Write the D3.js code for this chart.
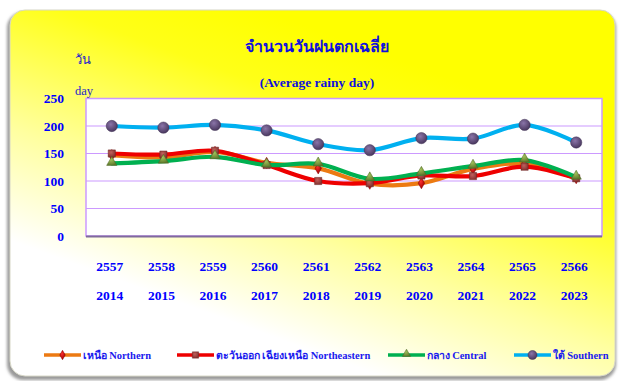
<!DOCTYPE html>
<html>
<head>
<meta charset="utf-8">
<script src="https://cdn.jsdelivr.net/npm/d3@7"></script>
<style>
  html, body { margin: 0; padding: 0; background: #ffffff; }
  svg { display: block; }
</style>
</head>
<body>
<svg id="chart" width="619" height="381"></svg>
<script>
// Average number of rainy days by region
const yearsBE = ["2557", "2558", "2559", "2560", "2561", "2562", "2563", "2564", "2565", "2566"];
const yearsCE = ["2014", "2015", "2016", "2017", "2018", "2019", "2020", "2021", "2022", "2023"];
const northern     = [147, 143, 153, 133, 123, 95, 96, 122, 131, 105];
const northeastern = [150, 148, 155, 129, 100, 96, 110, 109, 126, 105];
const central      = [132, 136, 144, 129, 131, 104, 114, 127, 138, 107];
const southern     = [200, 197, 202, 192, 167, 156, 178, 177, 202, 170];
const yTicks = [0, 50, 100, 150, 200, 250];

const seriesNames = ["เหนือ Northern", "ตะวันออก เฉียงเหนือ Northeastern", "กลาง Central", "ใต้ Southern"];

const series = [
  { name: seriesNames[0], values: northern,     line: "#ec7a12", marker: "diamond",  mstroke: "#8b0000" },
  { name: seriesNames[1], values: northeastern, line: "#ee0000", marker: "square",   mstroke: "#6e2624" },
  { name: seriesNames[2], values: central,      line: "#00b050", marker: "triangle", mstroke: "#4f6625" },
  { name: seriesNames[3], values: southern,     line: "#00b0f0", marker: "circle",   mstroke: "#3f3052" }
];

const svg = d3.select("#chart");
const defs = svg.append("defs");

// panel background: yellow at the top fading to white towards the bottom
const bg = defs.append("linearGradient").attr("id", "bgGrad")
  .attr("gradientUnits", "userSpaceOnUse")
  .attr("x1", 400).attr("y1", 60).attr("x2", 290).attr("y2", 360);
bg.append("stop").attr("offset", 0).attr("stop-color", "#ffff00");
bg.append("stop").attr("offset", 0.22).attr("stop-color", "#ffff18");
bg.append("stop").attr("offset", 0.62).attr("stop-color", "#ffffa0");
bg.append("stop").attr("offset", 0.95).attr("stop-color", "#ffffff");

const shadow = defs.append("filter").attr("id", "panelShadow")
  .attr("x", "-5%").attr("y", "-5%").attr("width", "110%").attr("height", "110%");
shadow.append("feGaussianBlur").attr("stdDeviation", 1.5);

// marker shading gradients
function radial(id, light, dark) {
  const g = defs.append("radialGradient").attr("id", id)
    .attr("cx", "40%").attr("cy", "35%").attr("r", "65%");
  g.append("stop").attr("offset", 0).attr("stop-color", light);
  g.append("stop").attr("offset", 1).attr("stop-color", dark);
}
radial("gCircle", "#8a74a8", "#4a385f");
radial("gSquare", "#c0605c", "#853230");
radial("gTriangle", "#a2c25a", "#5f7a2c");
radial("gDiamond", "#ff3030", "#a00000");

// panel
svg.append("rect")
  .attr("x", 7).attr("y", 12).attr("width", 609).attr("height", 368)
  .attr("rx", 16).attr("fill", "#9a9a9a").attr("filter", "url(#panelShadow)");
svg.append("rect")
  .attr("x", 10).attr("y", 10).attr("width", 605).attr("height", 366)
  .attr("rx", 15).attr("fill", "url(#bgGrad)")
  .attr("stroke", "#d8d8c8").attr("stroke-width", 1);

// plot area
const plot = { left: 86, top: 98.5, right: 602, bottom: 236 };

const x = d3.scaleBand().domain(yearsBE).range([plot.left, plot.right]);
const y = d3.scaleLinear().domain([0, 250]).range([plot.bottom, plot.top]);

svg.append("rect")
  .attr("x", plot.left).attr("y", plot.top)
  .attr("width", plot.right - plot.left).attr("height", plot.bottom - plot.top)
  .attr("fill", "#ffffff").attr("stroke", "#cc99ff").attr("stroke-width", 1.5);

// horizontal gridlines
svg.append("g").selectAll("line").data(yTicks.filter(t => t > 0 && t < 250)).join("line")
  .attr("x1", plot.left).attr("x2", plot.right)
  .attr("y1", d => y(d)).attr("y2", d => y(d))
  .attr("stroke", "#cc99ff").attr("stroke-width", 1.2);

const fontSerif = "'Liberation Serif', 'Times New Roman', serif";

// y axis labels
const yAxis = d3.axisLeft(y).tickValues(yTicks).tickSize(0).tickPadding(0);
const yg = svg.append("g").attr("transform", `translate(${plot.left - 22},0)`).call(yAxis);
yg.select(".domain").remove();
yg.selectAll("text")
  .attr("fill", "#0000ff").attr("font-family", fontSerif)
  .attr("font-weight", "bold").attr("font-size", 13.5);

// x axis line
svg.append("line")
  .attr("x1", plot.left).attr("x2", plot.right)
  .attr("y1", plot.bottom + 0.5).attr("y2", plot.bottom + 0.5)
  .attr("stroke", "#7f6a9c").attr("stroke-width", 2.2);

// x category labels (Buddhist era and Common era rows)
const xLabels = svg.append("g")
  .attr("fill", "#0000ff").attr("font-family", fontSerif)
  .attr("font-weight", "bold").attr("font-size", 13.5).attr("text-anchor", "middle");
xLabels.selectAll("text.be").data(yearsBE).join("text").attr("class", "be")
  .attr("x", d => x(d) + x.bandwidth() / 2 - 2).attr("y", 271).text(d => d);
xLabels.selectAll("text.ce").data(yearsCE).join("text").attr("class", "ce")
  .attr("x", (d, i) => x(yearsBE[i]) + x.bandwidth() / 2 - 2).attr("y", 300).text(d => d);

// series lines
const line = d3.line()
  .x((d, i) => x(yearsBE[i]) + x.bandwidth() / 2)
  .y(d => y(d))
  .curve(d3.curveCatmullRom.alpha(0.5));

const markerSym = {
  diamond: d3.symbol().type(d3.symbolDiamond).size(36),
  square: d3.symbol().type(d3.symbolSquare).size(52),
  triangle: d3.symbol().type(d3.symbolTriangle).size(46),
  circle: d3.symbol().type(d3.symbolCircle).size(100)
};
const legendSym = {
  diamond: d3.symbol().type(d3.symbolDiamond).size(26),
  square: d3.symbol().type(d3.symbolSquare).size(40),
  triangle: d3.symbol().type(d3.symbolTriangle).size(30),
  circle: d3.symbol().type(d3.symbolCircle).size(64)
};
const markerGrad = { diamond: "url(#gDiamond)", square: "url(#gSquare)", triangle: "url(#gTriangle)", circle: "url(#gCircle)" };

const sg = svg.append("g");
series.forEach(s => {
  sg.append("path").datum(s.values)
    .attr("d", line).attr("fill", "none")
    .attr("stroke", s.line).attr("stroke-width", 4.2)
    .attr("stroke-linejoin", "round").attr("stroke-linecap", "round");
  sg.append("g").selectAll("path").data(s.values).join("path")
    .attr("transform", (d, i) => `translate(${x(yearsBE[i]) + x.bandwidth() / 2},${y(d) + (s.marker === "triangle" ? -1 : 0)})`)
    .attr("d", markerSym[s.marker])
    .attr("fill", markerGrad[s.marker])
    .attr("stroke", s.mstroke).attr("stroke-width", 0.5);
});

// titles
svg.append("text").attr("x", 317).attr("y", 52).attr("text-anchor", "middle")
  .attr("fill", "#1010dd").attr("font-family", fontSerif)
  .attr("font-weight", "bold").attr("font-size", 16).text("จำนวนวันฝนตกเฉลี่ย");
svg.append("text").attr("x", 317).attr("y", 87).attr("text-anchor", "middle")
  .attr("fill", "#1010dd").attr("font-family", fontSerif)
  .attr("font-weight", "bold").attr("font-size", 13.5).text("(Average rainy day)");

// y axis unit
svg.append("text").attr("x", 75).attr("y", 64)
  .attr("fill", "#2626c8").attr("font-family", fontSerif).attr("font-size", 13).text("วัน");
svg.append("text").attr("x", 75).attr("y", 95)
  .attr("fill", "#2626c8").attr("font-family", fontSerif).attr("font-size", 12.5).text("day");

// legend
const legendX = [44, 177, 388, 514];
const legend = svg.append("g");
series.forEach((s, i) => {
  const g = legend.append("g").attr("transform", `translate(${legendX[i]},355)`);
  g.append("line").attr("x1", 0).attr("x2", 37).attr("y1", 0).attr("y2", 0)
    .attr("stroke", s.line).attr("stroke-width", 3.5);
  g.append("path").attr("transform", `translate(18.5,${s.marker === "triangle" ? -1 : 0})`)
    .attr("d", legendSym[s.marker])
    .attr("fill", markerGrad[s.marker]).attr("stroke", s.mstroke).attr("stroke-width", 0.5);
  g.append("text").attr("x", 38.5).attr("y", 4)
    .attr("fill", "#1a1aee").attr("font-family", fontSerif)
    .attr("font-weight", "bold").attr("font-size", 10.5).text(s.name);
});
</script>
</body>
</html>
